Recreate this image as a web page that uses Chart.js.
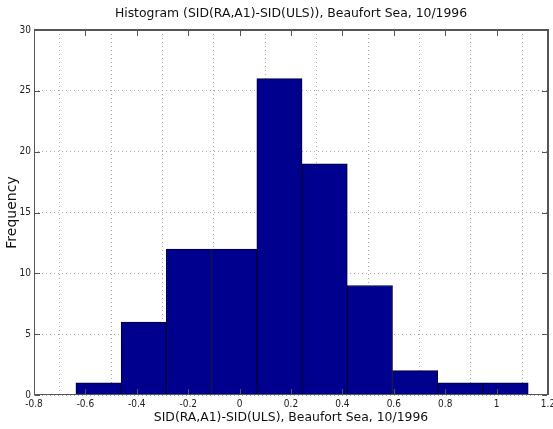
<!DOCTYPE html>
<html>
<head>
<meta charset="utf-8">
<script src="https://cdn.jsdelivr.net/npm/chart.js@4"></script>
<style>
  html, body { margin: 0; padding: 0; background: #fff; overflow: hidden; }
  #wrap { width: 553px; height: 429px; }
</style>
</head>
<body>
<div id="wrap"><canvas id="hist"></canvas></div>
<script>
// histogram bins (centers) and counts
const binCenters = [-0.549, -0.373, -0.197, -0.021, 0.155, 0.331, 0.507, 0.683, 0.859, 1.035];
const counts = [1, 6, 12, 12, 26, 19, 9, 2, 1, 1];
const xTickLabels = ['-0.8', '-0.6', '-0.4', '-0.2', '0', '0.2', '0.4', '0.6', '0.8', '1', '1.2'];
const yTickLabels = ['0', '5', '10', '15', '20', '25', '30'];

const titulo = 'Histogram (SID(RA,A1)-SID(ULS)), Beaufort Sea, 10/1996';
const tickFont = { family: "'Liberation Sans Narrow', 'DejaVu Sans Condensed', 'Liberation Sans'", size: 10 };

// caja completa con marcas hacia dentro y titulo centrado sobre los ejes
const marcoPlugin = {
  id: 'marco',
  afterDraw(chart) {
    const { ctx, chartArea: a, scales } = chart;
    const l = Math.round(a.left), r = Math.round(a.right) - 1;
    const t = Math.round(a.top), b = Math.round(a.bottom) - 1;
    ctx.save();
    ctx.fillStyle = '#555';
    ctx.fillRect(l, t - 1, r - l + 2, 2);
    ctx.fillRect(l, b, r - l + 2, 1);
    ctx.fillRect(l, t, 1, b - t + 1);
    ctx.fillRect(r, t - 1, 2, b - t + 2);
    scales.x.ticks.forEach(tk => {
      const px = Math.round(scales.x.getPixelForValue(tk.value));
      ctx.fillRect(px, b - 5, 1, 5);
      ctx.fillRect(px, t + 1, 1, 5);
    });
    scales.y.ticks.forEach(tk => {
      const py = Math.round(scales.y.getPixelForValue(tk.value));
      ctx.fillRect(l + 1, py, 5, 1);
      ctx.fillRect(r - 5, py, 5, 1);
    });
    ctx.fillStyle = '#111';
    ctx.font = "12.4px 'DejaVu Sans'";
    ctx.textAlign = 'center';
    ctx.textBaseline = 'middle';
    ctx.fillText(titulo, (a.left + a.right) / 2, 14);
    ctx.restore();
  }
};

new Chart(document.getElementById('hist'), {
  type: 'bar',
  data: {
    datasets: [{
      data: binCenters.map((x, i) => ({ x, y: counts[i] })),
      backgroundColor: '#00008f',
      borderColor: '#000033',
      borderWidth: 1,
      barPercentage: 1,
      categoryPercentage: 1
    }]
  },
  options: {
    responsive: true,
    maintainAspectRatio: false,
    animation: false,
    layout: { padding: { top: 30, right: 5, left: 0, bottom: 0 } },
    plugins: { legend: { display: false }, tooltip: { enabled: false } },
    scales: {
      x: {
        type: 'linear',
        offset: false,
        min: -0.8,
        max: 1.2,
        afterFit: s => { s.height = 34; s.paddingLeft = 0; s.paddingRight = 0; },
        grid: { color: '#aaa', drawTicks: false, tickLength: 0 },
        border: { display: false, dash: [1, 3] },
        ticks: {
          stepSize: 0.2,
          padding: 3,
          color: '#222',
          font: tickFont,
          callback: (v, i) => xTickLabels[i]
        },
        title: {
          display: true,
          text: 'SID(RA,A1)-SID(ULS), Beaufort Sea, 10/1996',
          color: '#111',
          font: { family: "'DejaVu Sans'", size: 12.4 },
          padding: { top: 0, bottom: 4 }
        }
      },
      y: {
        min: 0,
        max: 30,
        afterFit: s => { s.width = 34; s.paddingTop = 0; s.paddingBottom = 0; },
        grid: { color: '#aaa', drawTicks: false, tickLength: 0 },
        border: { display: false, dash: [1, 3] },
        ticks: {
          stepSize: 5,
          padding: 3,
          color: '#222',
          font: tickFont,
          callback: (v, i) => yTickLabels[i]
        },
        title: {
          display: true,
          text: 'Frequency',
          color: '#111',
          font: { family: "'DejaVu Sans'", size: 14 },
          padding: { top: 4, bottom: 0 }
        }
      }
    }
  },
  plugins: [marcoPlugin]
});
</script>
</body>
</html>
